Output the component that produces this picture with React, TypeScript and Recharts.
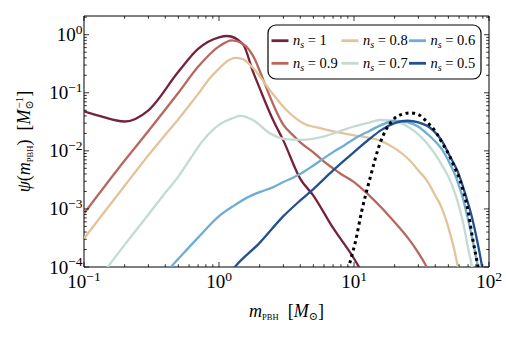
import React from "react";
import { LineChart, Line, XAxis, YAxis, ReferenceArea, Legend, Label } from "recharts";

const FONT = "'Liberation Serif', 'DejaVu Serif', serif";
const W = 506;
const H = 351;
const PLOT = { left: 84, right: 489, top: 16, bottom: 267 };

const nsLabels = ["1", "0.9", "0.8", "0.7", "0.6", "0.5"];
const nsColors = ["#74233a", "#b8675e", "#e3c49a", "#c3dbd3", "#6eaed5", "#23508f"];

// psi(m), per n_s
const ns1Mass = [0.1, 0.13, 0.2, 0.3, 0.5, 0.7, 1, 1.15, 1.5, 1.8, 2, 2.5, 3, 4, 5, 7, 10, 11.5];
const ns1Psi = [0.048, 0.04, 0.032, 0.05, 0.23, 0.57, 0.9, 0.95, 0.69, 0.22, 0.12, 0.035, 0.015, 0.0033, 0.0017, 4.7e-4, 1.4e-4, 8e-5];

const ns09Mass = [0.1, 0.2, 0.3, 0.5, 0.7, 1, 1.25, 1.5, 1.85, 2, 2.5, 3, 3.5, 4, 5, 6, 7, 8, 10, 13, 16, 20, 25, 30, 34, 37];
const ns09Psi = [8.3e-4, 6.8e-3, 0.022, 0.1, 0.28, 0.63, 0.8, 0.7, 0.37, 0.24, 0.066, 0.028, 0.019, 0.014, 0.0094, 0.0065, 0.005, 0.004, 0.0029, 0.0017, 0.00105, 5.9e-4, 3.2e-4, 1.75e-4, 1.07e-4, 7e-5];

const ns08Mass = [0.1, 0.2, 0.3, 0.4, 0.5, 0.6, 0.7, 0.85, 1, 1.15, 1.32, 1.5, 1.78, 2.39, 3.17, 4.2, 5.6, 7.5, 9.8, 13.2, 15.6, 19.4, 25.8, 30, 34.6, 40, 43.4, 51.5, 55, 58.6, 62];
const ns08Psi = [3.1e-4, 2.5e-3, 8.4e-3, 0.019, 0.035, 0.06, 0.095, 0.175, 0.26, 0.35, 0.4, 0.38, 0.27, 0.11, 0.05, 0.03, 0.0246, 0.021, 0.0187, 0.0166, 0.015, 0.0116, 0.0069, 0.0046, 0.0031, 0.0017, 0.0012, 3.8e-4, 2.1e-4, 1.07e-4, 6e-5];

const ns07Mass = [0.14, 0.15, 0.2, 0.3, 0.4, 0.5, 0.6, 0.76, 0.9, 1, 1.28, 1.43, 1.78, 2.39, 3.17, 4.2, 5.6, 7.5, 9.8, 13.2, 15.6, 19.4, 25.8, 34.6, 45.8, 50, 55, 60, 65, 70, 75, 78];
const ns07Psi = [8e-5, 1e-4, 2.4e-4, 8e-4, 1.9e-3, 3.6e-3, 6.8e-3, 0.015, 0.023, 0.028, 0.037, 0.04, 0.034, 0.02, 0.0158, 0.0155, 0.017, 0.021, 0.026, 0.031, 0.034, 0.033, 0.025, 0.0136, 0.0052, 0.0036, 0.0021, 1.1e-3, 5.2e-4, 2.1e-4, 1e-4, 6e-5];

const ns06Mass = [0.4, 0.44, 0.5, 0.7, 1, 1.3, 1.6, 2, 2.5, 3, 4, 5, 6, 7, 8.5, 10, 13, 16, 20, 25, 30, 35, 40, 45, 50, 55, 60, 65, 70, 75, 80, 83, 86];
const ns06Psi = [7.6e-5, 1e-4, 1.38e-4, 3.2e-4, 7.5e-4, 1.15e-3, 1.55e-3, 1.95e-3, 2.35e-3, 2.9e-3, 4e-3, 5.6e-3, 7.5e-3, 9.5e-3, 0.0125, 0.016, 0.022, 0.028, 0.033, 0.031, 0.026, 0.0195, 0.0145, 0.0105, 0.0068, 0.0043, 0.0025, 1.35e-3, 6.5e-4, 3.2e-4, 1.5e-4, 1e-4, 7e-5];

const ns05Mass = [1.25, 1.31, 2, 3, 4, 5, 7, 10, 13, 16, 20, 25, 30, 36.6, 45.8, 50, 55, 58, 65, 70, 75, 80, 85, 89, 92];
const ns05Psi = [8.7e-5, 1e-4, 2.6e-4, 7.5e-4, 1.4e-3, 2.2e-3, 4.6e-3, 9.5e-3, 0.016, 0.023, 0.03, 0.033, 0.031, 0.025, 0.0136, 0.0091, 0.006, 0.0047, 0.0022, 1.25e-3, 7e-4, 3.6e-4, 1.8e-4, 1e-4, 7e-5];

// black dotted reference distribution
const refMass = [8.8, 9.5, 10.2, 11.4, 13.2, 15.6, 19.4, 23, 26, 30, 35, 41, 45, 51.5, 55, 61, 65, 68.9, 75.8, 82.6, 86];
const refPsi = [7e-5, 1.4e-4, 2.6e-4, 9.1e-4, 3.5e-3, 0.0136, 0.034, 0.043, 0.045, 0.042, 0.031, 0.02, 0.0137, 0.0078, 0.0055, 0.0031, 0.0019, 1.1e-3, 3e-4, 1.05e-4, 6e-5];

const xMajor = [0.1, 1, 10, 100];
const xTicks = [0.1, 0.2, 0.3, 0.4, 0.5, 0.6, 0.7, 0.8, 0.9, 1, 2, 3, 4, 5, 6, 7, 8, 9, 10, 20, 30, 40, 50, 60, 70, 80, 90, 100];
const yMajor = [1e-4, 1e-3, 1e-2, 1e-1, 1];
const yTicks = [
  1e-4, 2e-4, 3e-4, 4e-4, 5e-4, 6e-4, 7e-4, 8e-4, 9e-4,
  1e-3, 2e-3, 3e-3, 4e-3, 5e-3, 6e-3, 7e-3, 8e-3, 9e-3,
  1e-2, 2e-2, 3e-2, 4e-2, 5e-2, 6e-2, 7e-2, 8e-2, 9e-2,
  0.1, 0.2, 0.3, 0.4, 0.5, 0.6, 0.7, 0.8, 0.9, 1, 2,
];

const zip = (ms: number[], ps: number[]) => ms.map((m, i) => ({ m, psi: ps[i] }));

const series = [
  zip(ns1Mass, ns1Psi),
  zip(ns09Mass, ns09Psi),
  zip(ns08Mass, ns08Psi),
  zip(ns07Mass, ns07Psi),
  zip(ns06Mass, ns06Psi),
  zip(ns05Mass, ns05Psi),
];
const refData = zip(refMass, refPsi);

const expText = (v: number) => {
  const e = Math.round(Math.log10(v));
  return e < 0 ? "\u2212" + -e : String(e);
};

function XTick(props: any) {
  const { x, payload } = props;
  const v = payload.value;
  const major = xMajor.includes(v);
  const len = major ? 5 : 2.8;
  return (
    <g>
      <line x1={x} x2={x} y1={PLOT.bottom} y2={PLOT.bottom - len} stroke="#000" strokeWidth={0.8} />
      <line x1={x} x2={x} y1={PLOT.top} y2={PLOT.top + len} stroke="#000" strokeWidth={0.8} />
      {major && (
        <text x={x} y={PLOT.bottom + 21} textAnchor="middle" fontFamily={FONT} fontSize={19} fill="#000">
          10<tspan dy={-7.5} fontSize={13.5}>{expText(v)}</tspan>
        </text>
      )}
    </g>
  );
}

function YTick(props: any) {
  const { y, payload } = props;
  const v = payload.value;
  const major = yMajor.includes(v);
  const len = major ? 5 : 2.8;
  return (
    <g>
      <line x1={PLOT.left} x2={PLOT.left + len} y1={y} y2={y} stroke="#000" strokeWidth={0.8} />
      <line x1={PLOT.right} x2={PLOT.right - len} y1={y} y2={y} stroke="#000" strokeWidth={0.8} />
      {major && (
        <text x={PLOT.left - 1.5} y={y + 6.5} textAnchor="end" fontFamily={FONT} fontSize={19} fill="#000">
          10<tspan dy={-7.5} fontSize={13.5}>{expText(v)}</tspan>
        </text>
      )}
    </g>
  );
}

const XLabel = () => (
  <text x={(PLOT.left + PLOT.right) / 2} y={317} textAnchor="middle" fontFamily={FONT} fontSize={18} fill="#000">
    <tspan fontStyle="italic">m</tspan>
    <tspan fontSize={8.5} dy={3}>PBH</tspan>
    <tspan dy={-3}>{"\u2002["}</tspan>
    <tspan fontStyle="italic">M</tspan>
    <tspan fontSize={11} dy={3}>{"\u2299"}</tspan>
    <tspan dy={-3}>]</tspan>
  </text>
);

const YLabel = () => {
  const cx = 30;
  const cy = (PLOT.top + PLOT.bottom) / 2;
  return (
    <text transform={`rotate(-90 ${cx} ${cy})`} x={cx} y={cy} textAnchor="middle" fontFamily={FONT} fontSize={18} fill="#000">
      <tspan fontStyle="italic">{"\u03c8"}</tspan>
      <tspan>(</tspan>
      <tspan fontStyle="italic">m</tspan>
      <tspan fontSize={8.5} dy={3}>PBH</tspan>
      <tspan dy={-3}>{")\u2002["}</tspan>
      <tspan fontStyle="italic">M</tspan>
      <tspan fontSize={11} dy={3}>{"\u2299"}</tspan>
      <tspan fontSize={11} dx={-8} dy={-10}>{"\u22121"}</tspan>
      <tspan dy={7}>]</tspan>
    </text>
  );
};

function LegendBox(props: any) {
  const items = (props.payload || [])
    .filter((p: any) => p.type !== "none")
    .slice()
    .sort((a: any, b: any) => nsLabels.indexOf(a.value) - nsLabels.indexOf(b.value));
  const colX = [5.5, 75.5, 143];
  const rowY = [17.7, 40.3];
  return (
    <svg width={220} height={60} style={{ display: "block" }}>
      <rect x={2} y={2} width={213} height={54} rx={8} fill="#fff" stroke="#000" strokeWidth={1.2} />
      {items.map((it: any, i: number) => {
        const lx = colX[Math.floor(i / 2)];
        const cy = rowY[i % 2];
        return (
          <g key={i}>
            <line x1={lx} x2={lx + 17} y1={cy} y2={cy} stroke={it.color} strokeWidth={2.8} />
            <text x={lx + 21.5} y={cy + 4.5} fontFamily={FONT} fontSize={14.5} fill="#000">
              <tspan fontStyle="italic">n</tspan>
              <tspan fontStyle="italic" fontSize={10} dy={3}>s</tspan>
              <tspan dy={-3}>{"\u00a0=\u00a0" + it.value}</tspan>
            </text>
          </g>
        );
      })}
    </svg>
  );
}

export default function App() {
  return (
    <div style={{ position: "absolute", left: 0, top: 0, width: W, height: H, background: "#fff" }}>
      <LineChart width={W} height={H} margin={{ top: PLOT.top, right: W - PLOT.right, bottom: 0, left: 0 }}>
        <XAxis
          dataKey="m"
          type="number"
          scale="log"
          domain={[0.1, 100]}
          allowDataOverflow
          ticks={xTicks}
          interval={0}
          tick={(p: any) => <XTick {...p} />}
          tickLine={false}
          axisLine={false}
          tickSize={0}
          tickMargin={0}
          height={H - PLOT.bottom}
        >
          <Label content={XLabel} />
        </XAxis>
        <YAxis
          type="number"
          scale="log"
          domain={[1e-4, 2.1]}
          allowDataOverflow
          ticks={yTicks}
          interval={0}
          tick={(p: any) => <YTick {...p} />}
          tickLine={false}
          axisLine={false}
          tickSize={0}
          tickMargin={0}
          width={PLOT.left}
        >
          <Label content={YLabel} />
        </YAxis>
        <Legend
          layout="horizontal"
          align="center"
          verticalAlign="middle"
          content={LegendBox}
          wrapperStyle={{ position: "absolute", left: 266, top: 23, width: 220, height: 60 }}
        />
        {series.map((d, i) => (
          <Line
            key={nsLabels[i]}
            data={d}
            dataKey="psi"
            name={nsLabels[i]}
            type="monotone"
            stroke={nsColors[i]}
            strokeWidth={2.3}
            dot={false}
            activeDot={false}
            isAnimationActive={false}
          />
        ))}
        <Line
          data={refData}
          dataKey="psi"
          name="ref"
          legendType="none"
          type="monotone"
          stroke="#000"
          strokeWidth={3}
          strokeDasharray="3 3.6"
          dot={false}
          activeDot={false}
          isAnimationActive={false}
        />
        <ReferenceArea x1={0.1} x2={100} y1={1e-4} y2={2.1} fill="none" fillOpacity={0} stroke="#000" strokeWidth={1} />
      </LineChart>
    </div>
  );
}
